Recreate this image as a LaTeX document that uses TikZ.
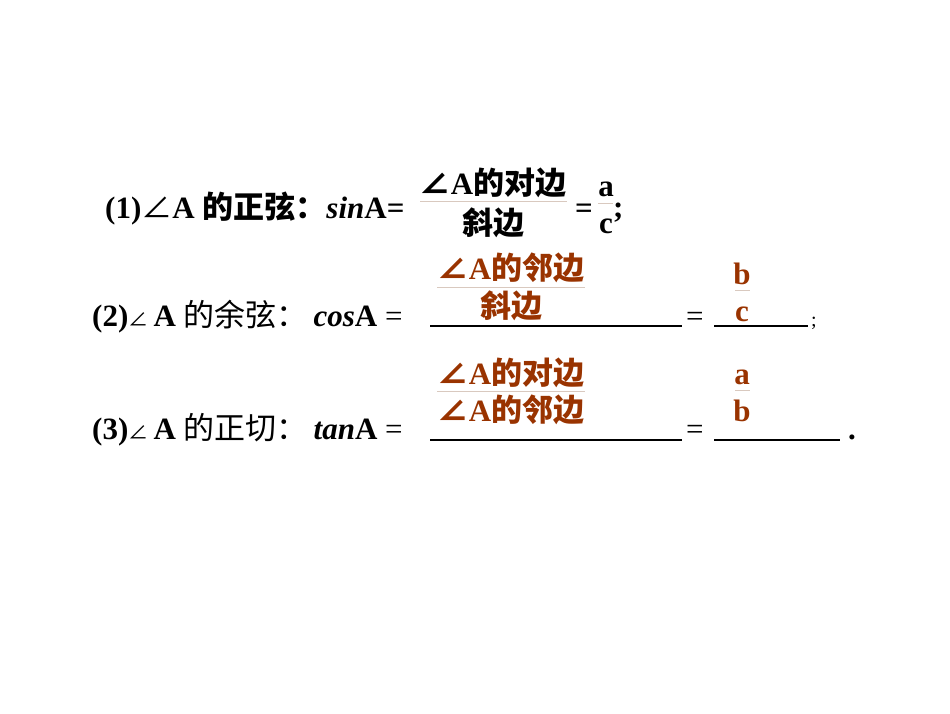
\documentclass[tikz,border=0pt]{standalone}
\usepackage{fontspec}
\setmainfont{Liberation Serif}
\newfontfamily\cjk{Noto Sans CJK SC}
\definecolor{ans}{HTML}{993300}
\definecolor{rulec}{HTML}{D9C9BF}
\begin{document}
\begin{tikzpicture}[x=1pt,y=-1pt,
  txt/.style={anchor=base west,inner sep=0pt,font=\fontsize{31}{34}\selectfont},
  ctr/.style={anchor=base,inner sep=0pt,font=\fontsize{31}{34}\selectfont\bfseries},
  br/.style={ctr,text=ans},
  blank/.style={line width=1.2pt},
  frac/.style={rulec,line width=0.6pt}]
\useasboundingbox (0,0) rectangle (950,713);
% line 1
\node[txt] (l1) at (105,218) {\textbf{(1)}{\cjk ∠}\textbf{A} {\cjk\bfseries 的正弦：}\textbf{\textit{sin}A=}};
\node[ctr] (n1) at (493,194) {{\cjk ∠}A{\cjk 的对边}};
\node[ctr] (d1) at (493,234) {\cjk 斜边};
\draw[frac] (420,201) coordinate (r1a) -- (567,201) coordinate (r1b);
\node[ctr] (e1) at (584,218) {=};
\node[ctr] (a1) at (606,196) {a};
\node[ctr] (c1) at (606,233) {c};
\draw[frac] (598,203) coordinate (r1c) -- (613,203) coordinate (r1d);
\node[txt] (s1) at (613,217) {\textbf{;}};
% line 2
\node[txt] (l2) at (92,326) {\textbf{(2)}{\cjk\fontsize{20}{22}\selectfont ∠}\,\textbf{A} {\cjk 的余弦：}\hspace{6pt}\textbf{\textit{cos}A} =};
\draw[blank] (430,326) coordinate (u2a) -- (682,326) coordinate (u2b);
\node[br] (n2) at (511,279) {{\cjk ∠}A{\cjk 的邻边}};
\node[br] (d2) at (511,317) {\cjk 斜边};
\draw[frac] (437,287) coordinate (r2a) -- (585,287) coordinate (r2b);
\node[txt] (e2) at (686,326) {=};
\draw[blank] (714,326) coordinate (u2c) -- (808,326) coordinate (u2d);
\node[br] (b2) at (742,284) {b};
\node[br] (c2) at (742,321) {c};
\draw[frac] (735,290) coordinate (r2c) -- (750,290) coordinate (r2d);
\node[txt] (s2) at (811,326) {\fontsize{20}{22}\selectfont ;};
% line 3
\node[txt] (l3) at (92,439) {\textbf{(3)}{\cjk\fontsize{20}{22}\selectfont ∠}\,\textbf{A} {\cjk 的正切：}\hspace{6pt}\textbf{\textit{tan}A} =};
\draw[blank] (430,440) coordinate (u3a) -- (682,440) coordinate (u3b);
\node[br] (n3) at (511,384) {{\cjk ∠}A{\cjk 的对边}};
\node[br] (d3) at (511,421) {{\cjk ∠}A{\cjk 的邻边}};
\draw[frac] (437,391) coordinate (r3a) -- (585,391) coordinate (r3b);
\node[txt] (e3) at (686,439) {=};
\draw[blank] (714,440) coordinate (u3c) -- (840,440) coordinate (u3d);
\node[br] (a3) at (742,384) {a};
\node[br] (b3) at (742,421) {b};
\draw[frac] (735,390) coordinate (r3c) -- (750,390) coordinate (r3d);
\node[txt] (s3) at (848,439) {\textbf{.}};
\end{tikzpicture}
\end{document}
